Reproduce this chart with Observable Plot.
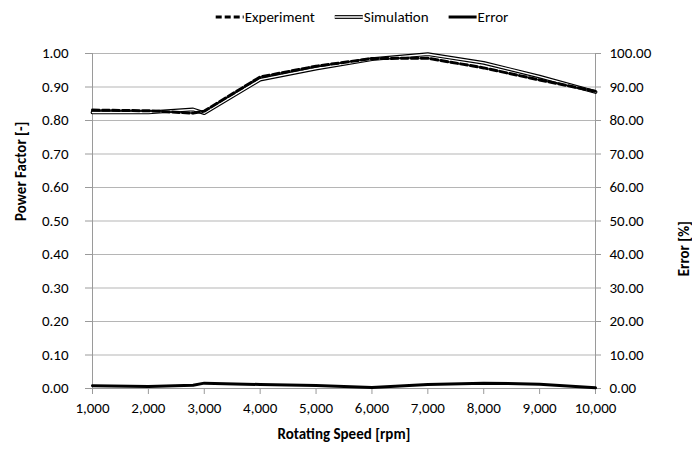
<!DOCTYPE html>
<html><head><meta charset="utf-8">
<script src="https://cdn.jsdelivr.net/npm/d3@7"></script>
<script src="https://cdn.jsdelivr.net/npm/@observablehq/plot@0.6"></script>
<style>
body{margin:0;background:#fff;font-family:Carlito,Calibri,Lato,sans-serif;}
#legend{height:30px;width:692px;}
</style></head><body>
<div id="legend"></div>
<div id="chart"></div>
<script>
const speed = [1000, 2000, 2800, 3000, 4000, 5000, 6000, 7000, 8000, 9000, 10000];
const experiment = [0.831, 0.829, 0.822, 0.828, 0.930, 0.962, 0.985, 0.986, 0.957, 0.921, 0.887];
const simulation = [0.824, 0.824, 0.833, 0.822, 0.922, 0.955, 0.983, 0.998, 0.972, 0.931, 0.885];
const errorPct = [0.8, 0.6, 1.0, 1.6, 1.2, 0.9, 0.3, 1.2, 1.6, 1.3, 0.2];
const seriesNames = ["Experiment", "Simulation", "Error"];
const xTicks = [1000, 2000, 3000, 4000, 5000, 6000, 7000, 8000, 9000, 10000];
const yTicks = [0, 0.1, 0.2, 0.3, 0.4, 0.5, 0.6, 0.7, 0.8, 0.9, 1.0];
const xTitle = "Rotating Speed [rpm]";
const yTitle = "Power Factor [-]";
const y2Title = "Error [%]";

const FONT = "Carlito, Calibri, Lato, sans-serif";
const FS = 15;
const rows = speed.map((s, i) => ({speed: s, experiment: experiment[i], simulation: simulation[i], error: errorPct[i] / 100}));

const chart = Plot.plot({
  width: 692, height: 424,
  marginLeft: 92, marginRight: 97, marginTop: 23, marginBottom: 66,
  style: {fontFamily: FONT, fontSize: FS + "px", color: "#000", background: "#fff"},
  x: {domain: [1000, 10000]},
  y: {domain: [0, 1]},
  marks: [
    Plot.gridY(yTicks, {stroke: "#b5b5b5", strokeOpacity: 1}),
    Plot.axisY(yTicks, {anchor: "left", tickFormat: d => d.toFixed(2), tickSize: 7, tickPadding: 17, stroke: "#9a9a9a", label: null}),
    Plot.axisY(yTicks, {anchor: "right", tickFormat: d => (d * 100).toFixed(2), tickSize: 5, tickPadding: 9, stroke: "#9a9a9a", label: null}),
    Plot.axisX(xTicks, {tickFormat: d3.format(","), tickSize: 6, tickPadding: 8, stroke: "#9a9a9a", label: null}),
    Plot.ruleX([1000, 10000], {stroke: "#9a9a9a"}),
    Plot.ruleY([0], {stroke: "#9a9a9a"}),
    Plot.line(rows, {x: "speed", y: "error", stroke: "#000", strokeWidth: 3}),
    Plot.line(rows, {x: "speed", y: "simulation", stroke: "#000", strokeWidth: 3.8}),
    Plot.line(rows, {x: "speed", y: "simulation", stroke: "#fff", strokeWidth: 1.5}),
    Plot.line(rows, {x: "speed", y: "experiment", stroke: "#000", strokeWidth: 3, strokeDasharray: "7,3"}),
    Plot.text([yTitle], {frameAnchor: "left", dx: -71, rotate: -90, fontWeight: "bold", fontSize: FS}),
    Plot.text([y2Title], {frameAnchor: "right", dx: 89, rotate: -90, fontWeight: "bold", fontSize: FS}),
    Plot.text([xTitle], {frameAnchor: "bottom", dy: 50, fontWeight: "bold", fontSize: FS})
  ]
});
document.getElementById("chart").appendChild(chart);

// Legend
const lg = d3.select("#legend").append("svg").attr("width", 692).attr("height", 30)
  .style("font-family", FONT).style("font-size", FS + "px");
let x = 0;
const group = lg.append("g");
seriesNames.forEach((name, i) => {
  const g = group.append("g");
  const sx = x;
  if (i === 0) {
    g.append("line").attr("x1", sx).attr("x2", sx + 28).attr("y1", 0).attr("y2", 0)
      .attr("stroke", "#000").attr("stroke-width", 3).attr("stroke-dasharray", "6,3");
  } else if (i === 1) {
    g.append("line").attr("x1", sx).attr("x2", sx + 28).attr("y1", 0).attr("y2", 0)
      .attr("stroke", "#000").attr("stroke-width", 3.8);
    g.append("line").attr("x1", sx).attr("x2", sx + 28).attr("y1", 0).attr("y2", 0)
      .attr("stroke", "#fff").attr("stroke-width", 1.5);
  } else {
    g.append("line").attr("x1", sx).attr("x2", sx + 28).attr("y1", 0).attr("y2", 0)
      .attr("stroke", "#000").attr("stroke-width", 3);
  }
  const t = g.append("text").attr("x", sx + 29).attr("y", 0).attr("dy", "0.35em").text(name);
  const w = t.node().getComputedTextLength();
  x = sx + 29 + w + 20;
});
const total = x - 20;
group.attr("transform", `translate(${362 - total / 2},17)`);
</script>
</body></html>
